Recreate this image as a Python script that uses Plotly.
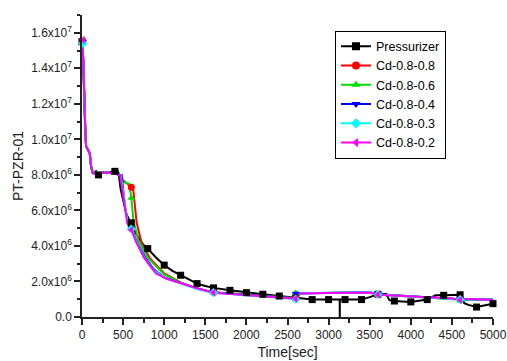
import plotly.graph_objects as go

# ---------------- data ----------------
# Pressurizer (black) line
t_pzr = [0, 15, 40, 50, 75, 95, 110, 130, 150, 170, 185, 200, 230, 260, 300, 340, 380, 400, 430, 445,
         470, 500, 540, 570, 600, 650, 700, 750, 800, 900, 1000, 1100, 1200, 1300, 1400, 1500, 1600,
         1800, 2000, 2200, 2400, 2600, 2800, 3000, 3135, 3136, 3137, 3200, 3400, 3500, 3600, 3700,
         3740, 3800, 4000, 4200, 4300, 4400, 4600, 4650, 4700, 4800, 5000]
p_pzr = [1.57e7, 1.45e7, 1.05e7, 9.6e6, 9.4e6, 9.2e6, 8.5e6, 8.15e6, 8.1e6, 8.2e6, 8.05e6, 8.0e6, 8.1e6,
         8.15e6, 8.1e6, 8.15e6, 8.2e6, 8.2e6, 8.25e6, 8.1e6,
         7.2e6, 6.6e6, 5.8e6, 5.5e6, 5.3e6, 4.75e6, 4.35e6, 4.05e6, 3.85e6, 3.35e6, 2.92e6, 2.6e6, 2.35e6,
         2.1e6, 1.88e6, 1.75e6, 1.64e6,
         1.5e6, 1.37e6, 1.28e6, 1.18e6, 1.1e6, 0.98e6, 0.98e6, 0.98e6, 0.0, 0.98e6, 0.98e6, 0.98e6, 1.12e6,
         1.28e6, 1.3e6,
         0.95e6, 0.9e6, 0.85e6, 0.98e6, 1.22e6, 1.22e6, 1.25e6, 0.78e6, 0.68e6, 0.56e6, 0.75e6]
# Pressurizer marker points
tm_pzr = [0, 200, 400, 600, 800, 1000, 1200, 1400, 1600, 1800, 2000, 2200, 2400, 2600, 2800, 3000,
          3200, 3400, 3600, 3800, 4000, 4200, 4400, 4600, 4800, 5000]
pm_pzr = [1.55e7, 8.0e6, 8.2e6, 5.3e6, 3.85e6, 2.92e6, 2.35e6, 1.88e6, 1.64e6, 1.5e6, 1.37e6, 1.28e6,
          1.18e6, 1.1e6, 0.98e6, 0.98e6, 0.98e6, 0.98e6, 1.28e6, 0.9e6, 0.85e6, 0.98e6, 1.22e6, 1.25e6,
          0.56e6, 0.75e6]

# Early part common to the Cd cases
t_early = [0, 15, 40, 50, 75, 95, 110, 130, 160, 200, 260, 300, 360, 400, 440]
p_early = [1.55e7, 1.45e7, 1.05e7, 9.6e6, 9.4e6, 9.2e6, 8.5e6, 8.1e6, 8.05e6, 8.1e6, 8.1e6, 8.15e6,
           8.1e6, 8.15e6, 8.0e6]

# Cd-0.8-0.8 (red)
t_c08 = [462, 500, 560, 600, 625, 665, 726, 827, 1000, 1200, 1400, 1600, 2000, 2400, 2600, 2650,
         3000, 3500, 3600, 4000, 4600, 5000]
p_c08 = [8.0e6, 7.7e6, 7.45e6, 7.3e6, 7.1e6, 5.3e6, 4.15e6, 3.3e6, 2.45e6, 1.95e6, 1.6e6, 1.4e6,
         1.27e6, 1.12e6, 1.06e6, 1.33e6, 1.36e6, 1.39e6, 1.27e6, 1.17e6, 1.0e6, 0.97e6]
# Cd-0.8-0.6 (green)
t_c06 = [462, 503, 575, 600, 625, 685, 807, 1000, 1200, 1400, 1600, 2000, 2400, 2600, 2650,
         3000, 3500, 3600, 4000, 4600, 5000]
p_c06 = [8.0e6, 7.6e6, 7.5e6, 6.7e6, 5.45e6, 4.33e6, 3.3e6, 2.4e6, 1.93e6, 1.6e6, 1.38e6, 1.26e6,
         1.1e6, 1.05e6, 1.34e6, 1.36e6, 1.39e6, 1.27e6, 1.16e6, 0.97e6, 0.96e6]
# Cd-0.8-0.4 (blue)
t_c04 = [483, 523, 560, 600, 670, 770, 870, 1000, 1200, 1400, 1600, 2000, 2400, 2580, 2600,
         3000, 3500, 3600, 4000, 4600, 5000]
p_c04 = [8.0e6, 6.2e6, 5.3e6, 5.0e6, 4.2e6, 3.35e6, 2.7e6, 2.22e6, 1.9e6, 1.6e6, 1.38e6, 1.26e6,
         1.1e6, 1.05e6, 1.32e6, 1.37e6, 1.4e6, 1.28e6, 1.17e6, 1.0e6, 0.98e6]
# Cd-0.8-0.3 (cyan)
t_c03 = [470, 510, 555, 600, 665, 765, 865, 1000, 1200, 1400, 1600, 2000, 2400, 2600, 2620,
         3000, 3500, 3600, 4000, 4600, 5000]
p_c03 = [8.0e6, 6.8e6, 5.3e6, 4.95e6, 4.2e6, 3.3e6, 2.65e6, 2.2e6, 1.88e6, 1.58e6, 1.37e6, 1.25e6,
         1.09e6, 1.02e6, 1.32e6, 1.36e6, 1.39e6, 1.27e6, 1.16e6, 0.98e6, 0.97e6]
# Cd-0.8-0.2 (magenta)
t_c02 = [462, 500, 550, 600, 660, 760, 860, 900, 1030, 1230, 1430, 1600, 2040, 2440, 2600, 2650,
         3000, 3500, 3600, 4000, 4500, 4600, 4650, 5000]
p_c02 = [8.0e6, 6.9e6, 5.3e6, 4.9e6, 4.2e6, 3.3e6, 2.65e6, 2.45e6, 2.15e6, 1.86e6, 1.58e6, 1.37e6,
         1.24e6, 1.08e6, 1.03e6, 1.32e6, 1.35e6, 1.38e6, 1.25e6, 1.15e6, 1.04e6, 0.96e6, 1.02e6, 0.96e6]

# Marker points for the Cd cases
tm_cd = [10, 600, 1600, 2600, 3600, 4600]
pm_c08 = [1.55e7, 7.3e6, 1.4e6, 1.06e6, 1.27e6, 1.0e6]
pm_c06 = [1.55e7, 6.7e6, 1.38e6, 1.35e6, 1.27e6, 0.92e6]
pm_c04 = [1.55e7, 5.0e6, 1.38e6, 1.32e6, 1.28e6, 1.0e6]
pm_c03 = [1.54e7, 4.95e6, 1.37e6, 1.0e6, 1.27e6, 0.98e6]
pm_c02 = [1.56e7, 4.9e6, 1.37e6, 1.03e6, 1.25e6, 0.96e6]

names = ["Pressurizer", "Cd-0.8-0.8", "Cd-0.8-0.6", "Cd-0.8-0.4", "Cd-0.8-0.3", "Cd-0.8-0.2"]
colors = ["#000000", "#ff0000", "#00e000", "#0000ff", "#00ffff", "#ff00ff"]
symbols = ["square", "circle", "triangle-up", "triangle-down", "diamond", "triangle-left"]

y_tickvals = [0, 2e6, 4e6, 6e6, 8e6, 1.0e7, 1.2e7, 1.4e7, 1.6e7]
y_ticktext = ["0.0", "2.0x10<sup>6</sup>", "4.0x10<sup>6</sup>", "6.0x10<sup>6</sup>",
              "8.0x10<sup>6</sup>", "1.0x10<sup>7</sup>", "1.2x10<sup>7</sup>",
              "1.4x10<sup>7</sup>", "1.6x10<sup>7</sup>"]
x_tickvals = [0, 500, 1000, 1500, 2000, 2500, 3000, 3500, 4000, 4500, 5000]

series = [
    (t_pzr, p_pzr, tm_pzr, pm_pzr),
    (t_early + t_c08, p_early + p_c08, tm_cd, pm_c08),
    (t_early + t_c06, p_early + p_c06, tm_cd, pm_c06),
    (t_early + t_c04, p_early + p_c04, tm_cd, pm_c04),
    (t_early + t_c03, p_early + p_c03, tm_cd, pm_c03),
    (t_early + t_c02, p_early + p_c02, tm_cd, pm_c02),
]

# ---------------- figure ----------------
fig = go.Figure()
FONT = "Arial, Liberation Sans, sans-serif"

for i, (tx, py, tmx, pmy) in enumerate(series):
    fig.add_trace(go.Scatter(x=tx, y=py, mode="lines", line=dict(color=colors[i], width=2),
                             showlegend=False, hoverinfo="skip", cliponaxis=True))
for i, (tx, py, tmx, pmy) in enumerate(series):
    fig.add_trace(go.Scatter(x=tmx, y=pmy, mode="markers",
                             marker=dict(symbol=symbols[i], color=colors[i], size=7,
                                         line=dict(width=0)),
                             showlegend=False, cliponaxis=False))
for i in range(len(series)):
    fig.add_trace(go.Scatter(x=[None], y=[None], mode="lines+markers", name=names[i],
                             line=dict(color=colors[i], width=2),
                             marker=dict(symbol=symbols[i], color=colors[i], size=8)))

axis_common = dict(showline=True, linecolor="#222222", linewidth=1.5, ticks="outside",
                   tickcolor="#222222", tickwidth=1.5, ticklen=6, showgrid=False,
                   zeroline=False, mirror=False, automargin=False,
                   tickfont=dict(family=FONT, size=12, color="#222222"))

fig.update_layout(
    width=507, height=361,
    margin=dict(l=82, r=14, t=15, b=44),
    plot_bgcolor="white", paper_bgcolor="white",
    font=dict(family=FONT, color="#222222"),
    xaxis=dict(range=[0, 5000], tickvals=x_tickvals,
               minor=dict(tickvals=[250, 750, 1250, 1750, 2250, 2750, 3250, 3750, 4250, 4750],
                          ticks="outside", ticklen=4, tickcolor="#222222", tickwidth=1.5),
               title=dict(text="Time[sec]", font=dict(family=FONT, size=14), standoff=6),
               **axis_common),
    yaxis=dict(range=[0, 1.7e7], tickvals=y_tickvals, ticktext=y_ticktext,
               minor=dict(tickvals=[1e6, 3e6, 5e6, 7e6, 9e6, 1.1e7, 1.3e7, 1.5e7, 1.7e7],
                          ticks="outside", ticklen=3, tickcolor="#222222", tickwidth=1.5),
               title=dict(text="PT-PZR-01", font=dict(family=FONT, size=14), standoff=4),
               **axis_common),
    legend=dict(x=0.6156, y=0.948, xanchor="left", yanchor="top",
                bordercolor="black", borderwidth=1, bgcolor="white",
                font=dict(family=FONT, size=12.5, color="black"),
                itemwidth=30, tracegroupgap=0),
)

fig.write_html("out.html")
